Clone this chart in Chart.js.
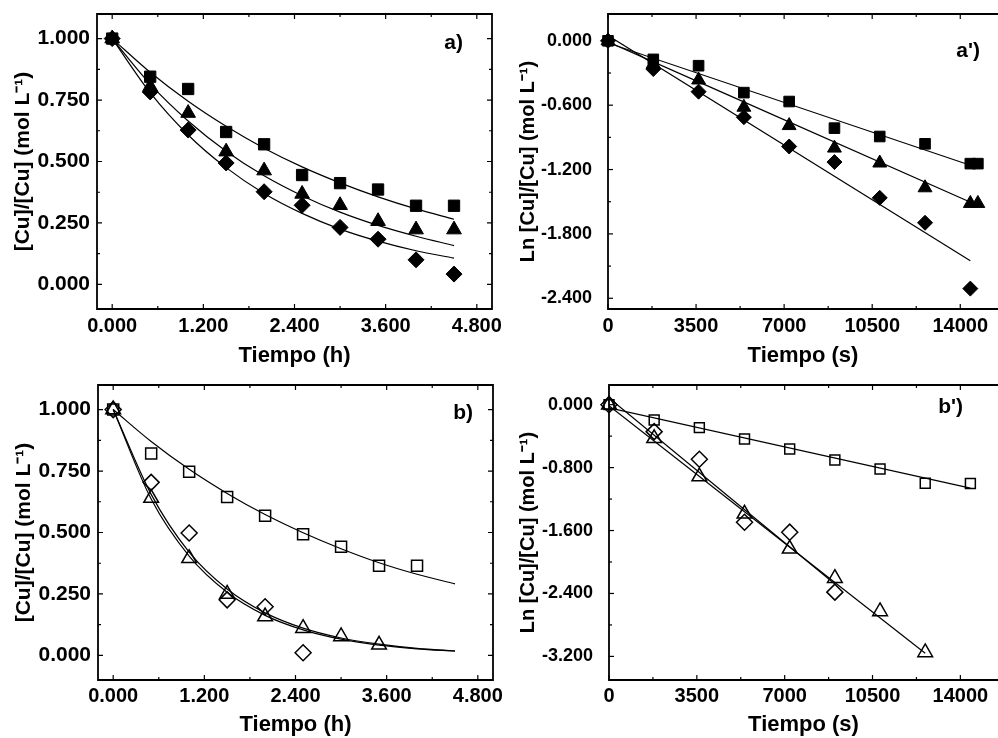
<!DOCTYPE html>
<html>
<head>
<meta charset="utf-8">
<script src="https://cdn.jsdelivr.net/npm/chart.js@4/dist/chart.umd.min.js"></script>
<style>
  html, body { margin: 0; padding: 0; background: #fff; overflow: hidden; width: 998px; height: 738px; }
  canvas { position: absolute; }
</style>
</head>
<body>
<canvas id="panelA" width="530" height="369" style="left:0;top:0"></canvas>
<canvas id="panelB" width="530" height="369" style="left:0;top:369px"></canvas>
<canvas id="panelA2" width="498" height="369" style="left:500px;top:0"></canvas>
<canvas id="panelB2" width="498" height="369" style="left:500px;top:369px"></canvas>
<script>
// tiempos
const tiempoH = [0, 0.5, 1.0, 1.5, 2.0, 2.5, 3.0, 3.5, 4.0, 4.5];
const tiempoS = [0, 1800, 3600, 5400, 7200, 9000, 10800, 12600, 14400, 14700];

// panel a)  [Cu]/[Cu]0 vs h
const aCuadrados = [1.000, 0.845, 0.795, 0.620, 0.570, 0.445, 0.412, 0.386, 0.320, 0.320];
const aTriangulos = [1.000, 0.805, 0.697, 0.540, 0.463, 0.368, 0.322, 0.257, 0.223, 0.223];
const aRombos = [1.000, 0.783, 0.628, 0.494, 0.377, 0.322, 0.232, 0.184, 0.100, 0.042];
const aAjusteCuadrados = [1.000, 0.863, 0.745, 0.643, 0.554, 0.478, 0.413, 0.356, 0.307, 0.265];
const aAjusteTriangulos = [1.000, 0.815, 0.665, 0.542, 0.442, 0.361, 0.294, 0.240, 0.196, 0.158];
const aAjusteRombos = [1.000, 0.780, 0.608, 0.475, 0.370, 0.289, 0.225, 0.176, 0.137, 0.107];

// panel a')  Ln vs s
const apCuadrados = [0, -0.173, -0.232, -0.483, -0.566, -0.814, -0.892, -0.960, -1.145, -1.145];
const apTriangulos = [0, -0.215, -0.365, -0.619, -0.790, -1.000, -1.139, -1.370, -1.516, -1.516];
const apRombos = [0, -0.263, -0.474, -0.712, -0.985, -1.130, -1.464, -1.696, -2.310];
const apRectaX = [0, 14400];
const apRectaXTri = [0, 14700];
const apRectaCuadrados = [-0.020, -1.160];
const apRectaTriangulos = [-0.010, -1.535];
const apRectaRombos = [0.050, -2.050];

// panel b)
const bCuadrados = [1.000, 0.821, 0.747, 0.644, 0.568, 0.493, 0.442, 0.365, 0.365];
const bRombos = [1.000, 0.704, 0.498, 0.226, 0.198, 0.011];
const bTriangulos = [1.000, 0.640, 0.395, 0.250, 0.158, 0.111, 0.077, 0.043];
const bAjusteCuadrados = [1.000, 0.870, 0.757, 0.659, 0.573, 0.499, 0.434, 0.377, 0.330, 0.291];
const bAjusteRombos = [1.000, 0.655, 0.420, 0.270, 0.173, 0.111, 0.071, 0.046, 0.029, 0.019];
const bAjusteTriangulos = [1.000, 0.636, 0.404, 0.257, 0.163, 0.104, 0.066, 0.042, 0.027, 0.017];

// panel b')
const bpCuadrados = [0, -0.195, -0.292, -0.436, -0.563, -0.703, -0.817, -0.999, -1.003];
const bpRombos = [0, -0.343, -0.694, -1.494, -1.621, -2.383];
const bpTriangulos = [0, -0.428, -0.914, -1.388, -1.833, -2.205, -2.629, -3.149];
const bpRectaXCuad = [0, 14400];
const bpRectaXRom = [0, 9000];
const bpRectaXTri = [0, 12600];
const bpRectaCuadrados = [-0.040, -1.060];
const bpRectaRombos = [0.085, -2.280];
const bpRectaTriangulos = [-0.013, -3.160];

// ticks
const xHMayor = [0, 1.2, 2.4, 3.6, 4.8];
const xHMenor = [0.6, 1.8, 3.0, 4.2];
const yConcMayor = [0, 0.25, 0.5, 0.75, 1.0];
const yConcMenor = [0.125, 0.375, 0.625, 0.875];
const xSMayor = [0, 3500, 7000, 10500, 14000];
const xSMenor = [1750, 5250, 8750, 12250];
const yLnAMayor = [0, -0.6, -1.2, -1.8, -2.4];
const yLnAMenor = [-0.3, -0.9, -1.5, -2.1];
const yLnBMayor = [0, -0.8, -1.6, -2.4, -3.2];
const yLnBMenor = [-0.4, -1.2, -2.0, -2.8];

const FUENTE = '"Liberation Sans", Arial, sans-serif';

function pares(xs, ys) {
    return ys.map((v, i) => ({ x: xs[i], y: v }));
}

function puntos(xs, ys, estilo, relleno, r) {
    return {
        data: pares(xs, ys),
        showLine: false,
        pointStyle: estilo,
        pointRadius: r,
        pointBackgroundColor: relleno ? '#000' : 'rgba(0,0,0,0)',
        pointBorderColor: '#000',
        pointBorderWidth: relleno ? 1 : 1.5,
        clip: false
    };
}

function curva(xs, ys) {
    return {
        data: pares(xs, ys),
        showLine: true,
        borderColor: '#000',
        borderWidth: 1.2,
        pointRadius: 0,
        cubicInterpolationMode: 'monotone',
        fill: false
    };
}

// marco con marcas hacia dentro (el lado derecho de a') y b') queda fuera de la imagen)
const marco = {
    id: 'marco',
    afterDraw(chart, args, o) {
        const { ctx, chartArea: a, scales: { x, y } } = chart;
        ctx.save();
        ctx.strokeStyle = '#000';
        ctx.lineWidth = 1.2;
        const marcasX = (vals, len) => vals.forEach(v => {
            const px = x.getPixelForValue(v);
            ctx.beginPath();
            ctx.moveTo(px, a.bottom); ctx.lineTo(px, a.bottom - len);
            ctx.moveTo(px, a.top); ctx.lineTo(px, a.top + len);
            ctx.stroke();
        });
        const marcasY = (vals, len) => vals.forEach(v => {
            const py = y.getPixelForValue(v);
            ctx.beginPath();
            ctx.moveTo(a.left, py); ctx.lineTo(a.left + len, py);
            if (!o.sinDerecha) { ctx.moveTo(a.right, py); ctx.lineTo(a.right - len, py); }
            ctx.stroke();
        });
        marcasX(o.xMayor, 5); marcasX(o.xMenor, 3);
        marcasY(o.yMayor, 5); marcasY(o.yMenor, 3);
        ctx.lineWidth = 1.8;
        ctx.beginPath();
        if (o.sinDerecha) {
            ctx.moveTo(a.right + 2, a.top);
            ctx.lineTo(a.left, a.top);
            ctx.lineTo(a.left, a.bottom);
            ctx.lineTo(a.right + 2, a.bottom);
        } else {
            ctx.rect(a.left, a.top, a.right - a.left, a.bottom - a.top);
        }
        ctx.stroke();
        ctx.fillStyle = '#000';
        ctx.font = 'bold 21px ' + FUENTE;
        ctx.textAlign = 'right';
        ctx.textBaseline = 'middle';
        ctx.fillText(o.texto, a.right - o.dx, a.top + o.dy);
        ctx.restore();
    }
};

function panel(id, c) {
    const ctx = document.getElementById(id).getContext('2d');
    return new Chart(ctx, {
        type: 'scatter',
        data: { datasets: c.datasets },
        options: {
            responsive: false,
            animation: false,
            events: [],
            layout: { autoPadding: false, padding: { left: 0, top: c.arriba, right: c.derecha, bottom: 0 } },
            plugins: {
                legend: { display: false },
                tooltip: { enabled: false },
                marco: {
                    xMayor: c.xMayor, xMenor: c.xMenor, yMayor: c.yMayor, yMenor: c.yMenor,
                    texto: c.texto, dx: c.dx, dy: c.dy, sinDerecha: !!c.sinDerecha
                }
            },
            scales: {
                x: {
                    type: 'linear',
                    min: c.xMin, max: c.xMax,
                    grid: { display: false, drawTicks: false },
                    border: { display: false },
                    afterBuildTicks: s => { s.ticks = c.xMayor.map(v => ({ value: v })); },
                    afterFit: s => { s.height = c.altoX; s.paddingLeft = 0; s.paddingRight = 0; },
                    ticks: {
                        padding: c.padTickX,
                        maxRotation: 0,
                        color: '#000',
                        font: { family: FUENTE, size: c.tamTickX, weight: 'bold' },
                        callback: v => c.fmtX(v)
                    },
                    title: {
                        display: true, text: c.tituloX, color: '#000',
                        padding: { top: 0, bottom: c.padTituloX },
                        font: { family: FUENTE, size: 22, weight: 'bold' }
                    }
                },
                y: {
                    type: 'linear',
                    min: c.yMin, max: c.yMax,
                    grid: { display: false, drawTicks: false },
                    border: { display: false },
                    afterBuildTicks: s => { s.ticks = c.yMayor.map(v => ({ value: v })); },
                    afterFit: s => { s.width = c.anchoY; s.paddingTop = 0; s.paddingBottom = 0; },
                    ticks: {
                        padding: c.padTickY,
                        color: '#000',
                        font: { family: FUENTE, size: c.tamTickY, weight: 'bold' },
                        callback: v => v.toFixed(3)
                    },
                    title: {
                        display: true, text: c.tituloY, color: '#000',
                        padding: { top: c.padTituloY, bottom: 0 },
                        font: { family: FUENTE, size: c.tamTituloY, weight: 'bold' }
                    }
                }
            }
        },
        plugins: [marco]
    });
}

const fmtH = v => v.toFixed(3);
const fmtS = v => String(v);

panel('panelA', {
    datasets: [
        puntos(tiempoH, aCuadrados, 'rect', true, 8),
        puntos(tiempoH, aTriangulos, 'triangle', true, 8.5),
        puntos(tiempoH, aRombos, 'rectRot', true, 8),
        curva(tiempoH, aAjusteCuadrados),
        curva(tiempoH, aAjusteTriangulos),
        curva(tiempoH, aAjusteRombos)
    ],
    xMin: -0.2, xMax: 5.0, yMin: -0.1, yMax: 1.1,
    xMayor: xHMayor, xMenor: xHMenor, yMayor: yConcMayor, yMenor: yConcMenor,
    arriba: 14, derecha: 38, anchoY: 97, altoX: 60,
    padTickX: 5, padTickY: 7, padTituloX: 0, padTituloY: 11,
    tamTickX: 20, tamTickY: 21, tamTituloY: 21,
    fmtX: fmtH,
    tituloX: 'Tiempo (h)', tituloY: '[Cu]/[Cu] (mol L\u207B\u00B9)',
    texto: 'a)', dx: 29, dy: 29
});

panel('panelB', {
    datasets: [
        puntos(tiempoH, bCuadrados, 'rect', false, 7.8),
        puntos(tiempoH, bRombos, 'rectRot', false, 8),
        puntos(tiempoH, bTriangulos, 'triangle', false, 8.5),
        curva(tiempoH, bAjusteCuadrados),
        curva(tiempoH, bAjusteRombos),
        curva(tiempoH, bAjusteTriangulos)
    ],
    xMin: -0.2, xMax: 5.0, yMin: -0.1, yMax: 1.1,
    xMayor: xHMayor, xMenor: xHMenor, yMayor: yConcMayor, yMenor: yConcMenor,
    arriba: 16, derecha: 37, anchoY: 98, altoX: 58,
    padTickX: 4, padTickY: 7, padTituloX: 0, padTituloY: 12,
    tamTickX: 20, tamTickY: 21, tamTituloY: 21,
    fmtX: fmtH,
    tituloX: 'Tiempo (h)', tituloY: '[Cu]/[Cu] (mol L\u207B\u00B9)',
    texto: 'b)', dx: 20, dy: 28
});

panel('panelA2', {
    datasets: [
        puntos(tiempoS, apCuadrados, 'rect', true, 7.5),
        puntos(tiempoS, apTriangulos, 'triangle', true, 8),
        puntos(tiempoS, apRombos, 'rectRot', true, 7.5),
        curva(apRectaX, apRectaCuadrados),
        curva(apRectaXTri, apRectaTriangulos),
        curva(apRectaX, apRectaRombos)
    ],
    xMin: 0, xMax: 15500, yMin: -2.5, yMax: 0.25,
    xMayor: xSMayor, xMenor: xSMenor, yMayor: yLnAMayor, yMenor: yLnAMenor,
    arriba: 14, derecha: 0, anchoY: 108, altoX: 60, sinDerecha: true,
    padTickX: 5, padTickY: 16, padTituloX: 0, padTituloY: 16,
    tamTickX: 20, tamTickY: 18, tamTituloY: 20,
    fmtX: fmtS,
    tituloX: 'Tiempo (s)', tituloY: 'Ln [Cu]/[Cu] (mol L\u207B\u00B9)',
    texto: "a')", dx: 18, dy: 37
});

panel('panelB2', {
    datasets: [
        puntos(tiempoS, bpCuadrados, 'rect', false, 7),
        puntos(tiempoS, bpRombos, 'rectRot', false, 8),
        puntos(tiempoS, bpTriangulos, 'triangle', false, 8.5),
        curva(bpRectaXCuad, bpRectaCuadrados),
        curva(bpRectaXRom, bpRectaRombos),
        curva(bpRectaXTri, bpRectaTriangulos)
    ],
    xMin: 0, xMax: 15500, yMin: -3.5, yMax: 0.25,
    xMayor: xSMayor, xMenor: xSMenor, yMayor: yLnBMayor, yMenor: yLnBMenor,
    arriba: 16, derecha: 0, anchoY: 109, altoX: 58, sinDerecha: true,
    padTickX: 4, padTickY: 16, padTituloX: 0, padTituloY: 16,
    tamTickX: 20, tamTickY: 18, tamTituloY: 20,
    fmtX: fmtS,
    tituloX: 'Tiempo (s)', tituloY: 'Ln [Cu]/[Cu] (mol L\u207B\u00B9)',
    texto: "b')", dx: 35, dy: 22
});
</script>
</body>
</html>
